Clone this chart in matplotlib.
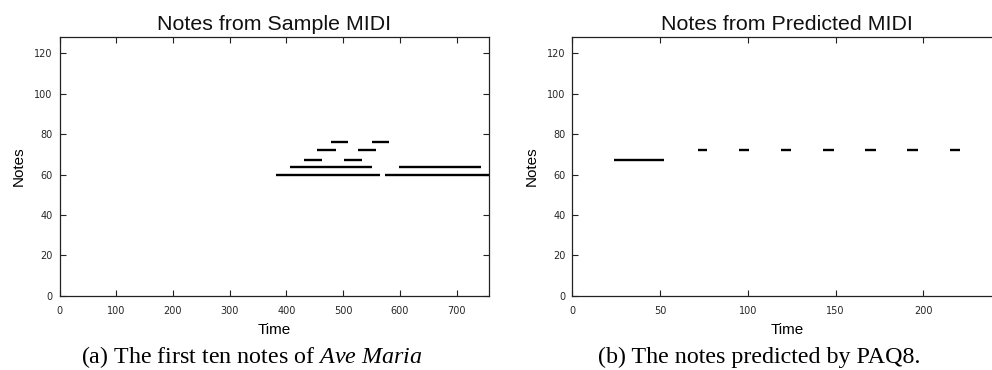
import matplotlib
matplotlib.use("Agg")
import matplotlib.pyplot as plt

# Data: notes from sample MIDI (Ave Maria)
sample_start = [381, 407, 431, 454, 478, 502, 526, 550, 573.5, 598]
sample_end = [565, 551, 463, 486.5, 509, 533, 557, 581, 770, 742]
sample_pitch = [60, 64, 67, 72, 76, 67, 72, 76, 60, 64]

# Data: notes from predicted MIDI (PAQ8)
pred_start = [23.5, 71.5, 95.2, 119, 143, 167, 191, 215]
pred_end = [52.2, 76.8, 100.6, 124.7, 149, 172.9, 196.8, 220.7]
pred_pitch = [67, 72, 72, 72, 72, 72, 72, 72]

left_xticks = [0, 100, 200, 300, 400, 500, 600, 700]
right_xticks = [0, 50, 100, 150, 200]
yticks = [0, 20, 40, 60, 80, 100, 120]

plt.rcParams['mathtext.fontset'] = 'custom'
plt.rcParams['mathtext.rm'] = 'Liberation Serif'
plt.rcParams['mathtext.it'] = 'Liberation Serif:italic'

W, H = 992, 370
fig = plt.figure(figsize=(W / 100, H / 100), dpi=100)

def px_axes(x0, x1, y0, y1):
    return fig.add_axes([x0 / W, 1 - y1 / H, (x1 - x0) / W, (y1 - y0) / H])

ax1 = px_axes(59.5, 488.5, 37.3, 295.7)
ax2 = px_axes(572.3, 1001.5, 37.3, 295.7)

sans = 'Liberation Sans'

def style(ax, xticks, xlim, title):
    ax.set_xlim(*xlim)
    ax.set_ylim(0, 128)
    ax.set_xticks(xticks)
    ax.set_yticks(yticks)
    ax.tick_params(axis='both', which='both', direction='in', length=4, width=0.8,
                   top=True, right=True, labelsize=7, labelcolor='#262626', color='#222222')
    ax.tick_params(axis='x', pad=7.5)
    ax.tick_params(axis='y', pad=5)
    for s in ax.spines.values():
        s.set_linewidth(0.9)
        s.set_color('#222222')
    ax.set_title(title, fontsize=15.4, family=sans, pad=5, color='#111111')
    ax.set_xlabel('Time', fontsize=11, family=sans, labelpad=5)
    ax.set_ylabel('Notes', fontsize=11, family=sans, labelpad=6)

ax1.hlines(sample_pitch, sample_start, sample_end, colors='black', linewidth=1.7, capstyle='butt')
ax2.hlines(pred_pitch, pred_start, pred_end, colors='black', linewidth=1.7, capstyle='butt')

style(ax1, left_xticks, (0, 756), 'Notes from Sample MIDI')
style(ax2, right_xticks, (0, 244.6), 'Notes from Predicted MIDI')

fig.text(252 / W, 1 - 357 / H, r'(a) The first ten notes of $\mathit{Ave\ Maria}$',
         ha='center', va='center', fontsize=17.3, family='Liberation Serif')
fig.text(759 / W, 1 - 357 / H, '(b) The notes predicted by PAQ8.',
         ha='center', va='center', fontsize=17.3, family='Liberation Serif')

fig.savefig('out.png', dpi=100)
